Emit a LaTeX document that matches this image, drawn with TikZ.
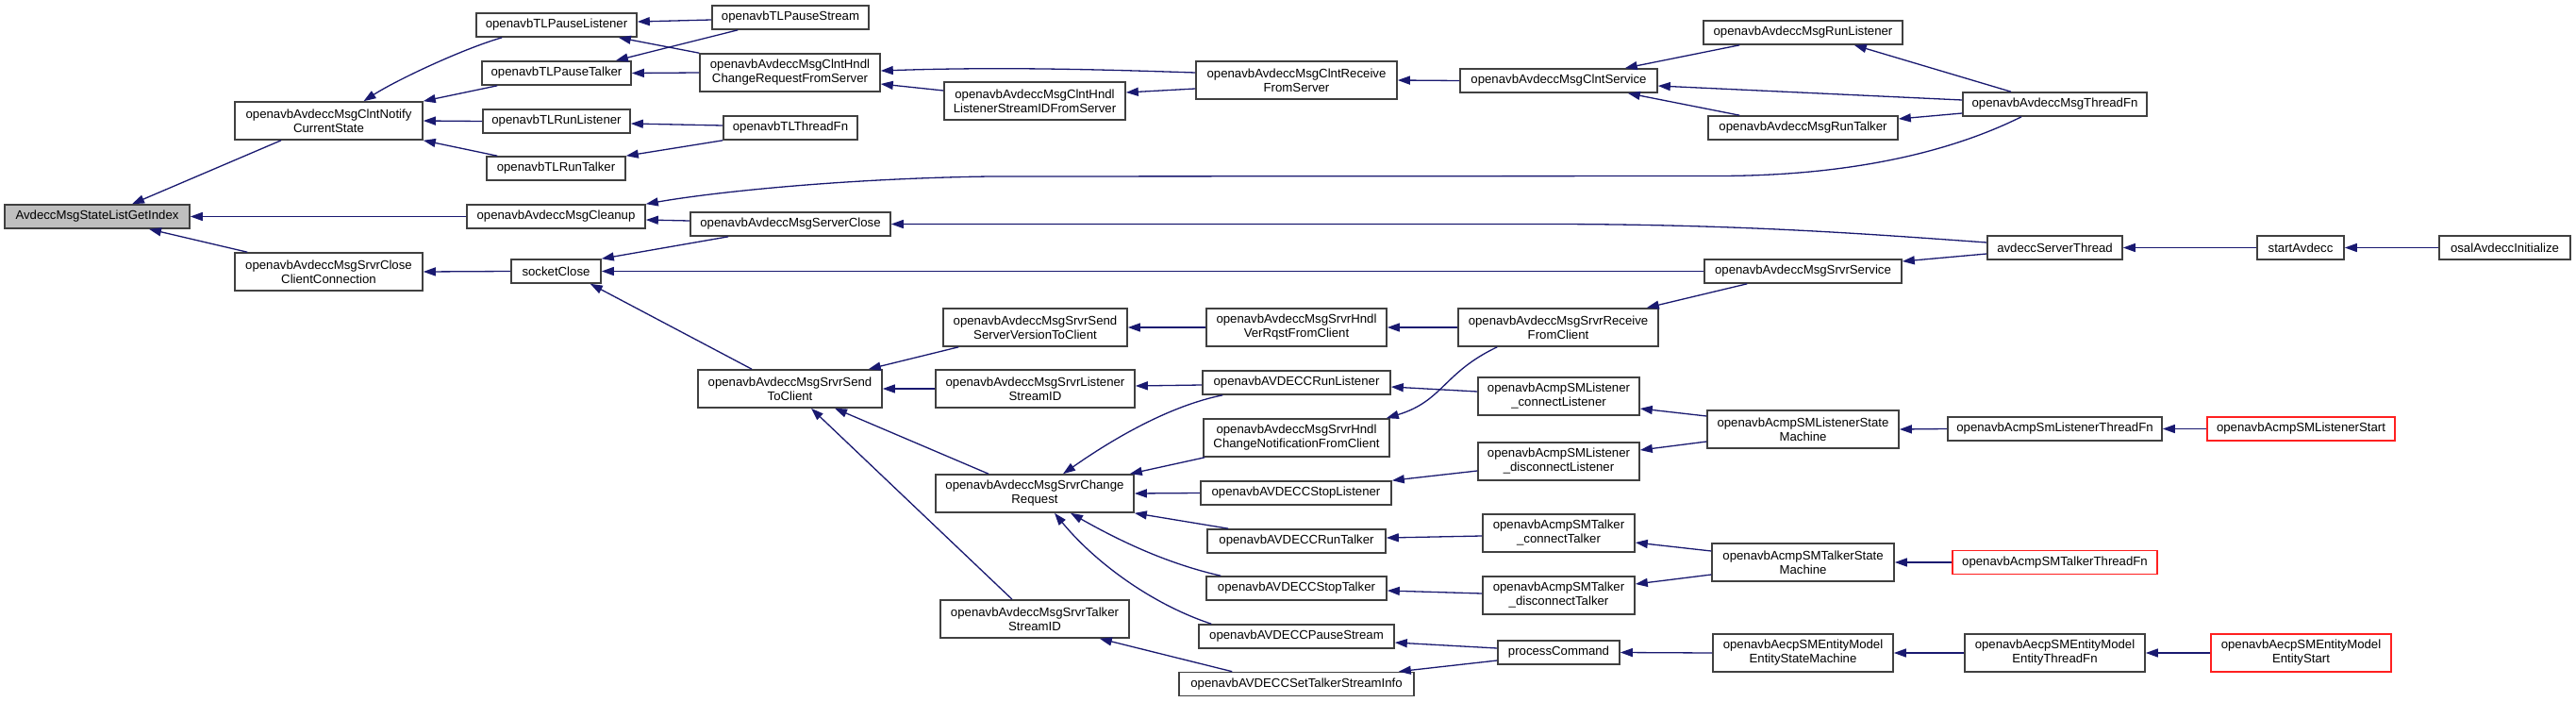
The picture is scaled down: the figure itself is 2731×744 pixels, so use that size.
\documentclass[tikz,border=0pt]{standalone}
\usepackage{fontspec}
\setmainfont{Liberation Sans}
\usetikzlibrary{arrows.meta}
\definecolor{edgeblue}{HTML}{191970}
\definecolor{boxline}{HTML}{404040}
\definecolor{rootfill}{HTML}{BFBFBF}
\definecolor{trunc}{HTML}{FF2020}
\begin{document}
\begin{tikzpicture}[x=1pt,y=-1pt,
  box/.style={draw=boxline, line width=1.6pt, fill=white, inner sep=0pt, align=center,
    font=\fontsize{13.2}{15}\selectfont},
  boxa/.style={box, minimum height=25pt},
  boxb/.style={box, minimum height=40pt},
  redbox/.style={draw=trunc},
  edge/.style={draw=edgeblue, line width=1.3pt, -{Triangle[length=13pt,width=9pt]}}]
\useasboundingbox[fill=white] (0,0) rectangle (2731,744);
% column 0
\node[boxa, fill=rootfill, minimum width=196pt] (root) at (103,229.5) {AvdeccMsgStateListGetIndex};
% column 1
\node[boxb, minimum width=199pt] (notify) at (348.5,128) {openavbAvdeccMsgClntNotify\\CurrentState};
\node[boxb, minimum width=199pt] (closeconn) at (348.5,288) {openavbAvdeccMsgSrvrClose\\ClientConnection};
% column 2
\node[boxa, minimum width=170pt] (tlpl) at (590,26.5) {openavbTLPauseListener};
\node[boxa, minimum width=158pt] (tlpt) at (590,77.5) {openavbTLPauseTalker};
\node[boxa, minimum width=156pt] (tlrl) at (590,128.5) {openavbTLRunListener};
\node[boxa, minimum width=147pt] (tlrt) at (589.5,178.5) {openavbTLRunTalker};
\node[boxa, minimum width=189pt] (cleanup) at (589.5,229.5) {openavbAvdeccMsgCleanup};
\node[boxa, minimum width=95pt] (sockclose) at (589.5,287.5) {socketClose};
% column 3
\node[boxa, minimum width=166pt] (tlps) at (838,18.5) {openavbTLPauseStream};
\node[boxb, minimum width=191pt] (chgreqsrv) at (837.5,77) {openavbAvdeccMsgClntHndl\\ChangeRequestFromServer};
\node[boxa, minimum width=142pt] (tlthread) at (838,135.5) {openavbTLThreadFn};
\node[boxa, minimum width=212pt] (serverclose) at (838,237.5) {openavbAvdeccMsgServerClose};
\node[boxb, minimum width=195pt] (sendtoclient) at (837.5,412) {openavbAvdeccMsgSrvrSend\\ToClient};
% column 4
\node[boxb, minimum width=192pt] (lsidsrv) at (1097,107) {openavbAvdeccMsgClntHndl\\ListenerStreamIDFromServer};
\node[boxb, minimum width=195pt] (sendver) at (1097.5,347) {openavbAvdeccMsgSrvrSend\\ServerVersionToClient};
\node[boxb, minimum width=211pt] (srvlsid) at (1097.5,412) {openavbAvdeccMsgSrvrListener\\StreamID};
\node[boxb, minimum width=210pt] (chgreq) at (1097,523) {openavbAvdeccMsgSrvrChange\\Request};
\node[boxb, minimum width=200pt] (srvtsid) at (1097,656) {openavbAvdeccMsgSrvrTalker\\StreamID};
% column 5
\node[boxb, minimum width=213pt] (clntrecv) at (1374.5,85) {openavbAvdeccMsgClntReceive\\FromServer};
\node[boxb, minimum width=191pt] (verrqst) at (1374.5,347) {openavbAvdeccMsgSrvrHndl\\VerRqstFromClient};
\node[boxa, minimum width=199pt] (runlis) at (1374.5,405.5) {openavbAVDECCRunListener};
\node[boxb, minimum width=197pt] (chgnotif) at (1374.5,464) {openavbAvdeccMsgSrvrHndl\\ChangeNotificationFromClient};
\node[boxa, minimum width=202pt] (stoplis) at (1374,522.5) {openavbAVDECCStopListener};
\node[boxa, minimum width=189pt] (runtalk) at (1374.5,573.5) {openavbAVDECCRunTalker};
\node[boxa, minimum width=191pt] (stoptalk) at (1374.5,623.5) {openavbAVDECCStopTalker};
\node[boxa, minimum width=207pt] (pausestr) at (1374.5,674.5) {openavbAVDECCPauseStream};
\node[boxa, minimum width=249pt] (settalk) at (1374.5,725) {openavbAVDECCSetTalkerStreamInfo};
% column 6
\node[boxa, minimum width=209pt] (clntsvc) at (1652.5,85.5) {openavbAvdeccMsgClntService};
\node[boxb, minimum width=212pt] (srvrecv) at (1652,347) {openavbAvdeccMsgSrvrReceive\\FromClient};
\node[boxb, minimum width=171pt] (connlis) at (1652.5,420) {openavbAcmpSMListener\\\_connectListener};
\node[boxb, minimum width=171pt] (disclis) at (1652.5,489) {openavbAcmpSMListener\\\_disconnectListener};
\node[boxb, minimum width=161pt] (conntalk) at (1652.5,565) {openavbAcmpSMTalker\\\_connectTalker};
\node[boxb, minimum width=161pt] (disctalk) at (1652.5,631) {openavbAcmpSMTalker\\\_disconnectTalker};
\node[boxa, minimum width=129pt] (proccmd) at (1652.5,691.5) {processCommand};
% column 7
\node[boxa, minimum width=211pt] (msgrunlis) at (1911.5,34.5) {openavbAvdeccMsgRunListener};
\node[boxa, minimum width=201pt] (msgruntalk) at (1911.5,135.5) {openavbAvdeccMsgRunTalker};
\node[boxa, minimum width=209pt] (srvsvc) at (1911.5,287.5) {openavbAvdeccMsgSrvrService};
\node[boxb, minimum width=203pt] (lissm) at (1911.5,455) {openavbAcmpSMListenerState\\Machine};
\node[boxb, minimum width=193pt] (talksm) at (1911.5,596) {openavbAcmpSMTalkerState\\Machine};
\node[boxb, minimum width=191pt] (entsm) at (1911.5,692) {openavbAecpSMEntityModel\\EntityStateMachine};
% column 8
\node[boxa, minimum width=195pt] (msgthread) at (2178.5,110.5) {openavbAvdeccMsgThreadFn};
\node[boxa, minimum width=143pt] (srvthread) at (2178.5,262.5) {avdeccServerThread};
\node[boxa, minimum width=227pt] (listhread) at (2178.5,454.5) {openavbAcmpSmListenerThreadFn};
\node[boxa, redbox, minimum width=217pt] (talkthread) at (2178.5,596) {openavbAcmpSMTalkerThreadFn};
\node[boxb, minimum width=191pt] (entthread) at (2178.5,692) {openavbAecpSMEntityModel\\EntityThreadFn};
% column 9
\node[boxa, minimum width=92pt] (startav) at (2439,262.5) {startAvdecc};
\node[boxa, redbox, minimum width=199pt] (lisstart) at (2439.5,454.5) {openavbAcmpSMListenerStart};
\node[boxb, redbox, minimum width=191pt] (entstart) at (2439.5,692) {openavbAecpSMEntityModel\\EntityStart};
% column 10
\node[boxa, minimum width=139pt] (osal) at (2655.5,262.5) {osalAvdeccInitialize};

% edges (caller -> callee)
\draw[edge] ([xshift=-50.5pt]notify.south) -- ([xshift=37pt]root.north);
\draw[edge] (cleanup.west) -- (root.east);
\draw[edge] ([xshift=14pt]closeconn.north west) -- ([xshift=55pt]root.south);
\draw[edge] ([xshift=28pt]tlpl.south west) .. controls (490,52) and (420,85) .. ([xshift=37pt]notify.north);
\draw[edge] ([xshift=17pt]tlpt.south west) -- (notify.north east);
\draw[edge] (tlrl.west) -- (notify.east);
\draw[edge] ([xshift=12pt]tlrt.north west) -- (notify.south east);
\draw[edge] ([yshift=-2.5pt]tlps.west) -- ([yshift=3.5pt]tlpl.east);
\draw[edge] ([xshift=28pt]tlps.south west) -- ([xshift=-17pt]tlpt.north east);
\draw[edge] (chgreqsrv.north west) -- ([xshift=-20pt]tlpl.south east);
\draw[edge] (chgreqsrv.west) -- (tlpt.east);
\draw[edge] ([yshift=2.5pt]tlthread.west) -- ([yshift=-2.5pt]tlrl.east);
\draw[edge] (tlthread.south west) -- (tlrt.north east);
\draw[edge] ([xshift=-35.5pt]msgthread.south) .. controls (2060,165) and (1950,186.5) .. (1820,186.5) -- (1050,187) .. controls (900,189) and (760,203) .. (cleanup.north east);
\draw[edge] ([yshift=3.5pt]serverclose.west) -- ([yshift=-3.5pt]cleanup.east);
\draw[edge] ([xshift=41pt]serverclose.south west) -- (sockclose.north east);
\draw[edge] (sockclose.west) -- (closeconn.east);
\draw[edge] (srvsvc.west) -- (sockclose.east);
\draw[edge] ([xshift=-40.5pt]sendtoclient.north) -- ([xshift=-12pt]sockclose.south east);
\draw[edge] ([yshift=5.5pt]srvthread.west) .. controls (1980,248) and (1850,238) .. (1650,237.5) -- (serverclose.east);
\draw[edge] ([yshift=8pt]clntrecv.west) .. controls (1150,73) and (1050,71) .. ([yshift=2pt]chgreqsrv.east);
\draw[edge] ([yshift=-9pt]clntrecv.west) -- ([yshift=9pt]lsidsrv.east);
\draw[edge] ([yshift=11pt]lsidsrv.west) -- ([yshift=-12pt]chgreqsrv.east);
\draw[edge] (clntsvc.west) -- (clntrecv.east);
\draw[edge] ([xshift=39pt]msgrunlis.south west) -- ([xshift=-35pt]clntsvc.north east);
\draw[edge] ([yshift=4.5pt]msgthread.west) -- ([yshift=-5.5pt]clntsvc.east);
\draw[edge] ([xshift=34pt]msgruntalk.north west) -- ([xshift=-32pt]clntsvc.south east);
\draw[edge] ([xshift=-46.5pt]msgthread.north) -- ([xshift=-52pt]msgrunlis.south east);
\draw[edge] ([yshift=-9.5pt]msgthread.west) -- ([yshift=9.5pt]msgruntalk.east);
\draw[edge] ([yshift=-6.5pt]srvthread.west) -- ([yshift=10.5pt]srvsvc.east);
\draw[edge] (startav.west) -- (srvthread.east);
\draw[edge] (osal.west) -- (startav.east);
\draw[edge] ([xshift=17pt]sendver.south west) -- ([xshift=-15pt]sendtoclient.north east);
\draw[edge] (srvlsid.west) -- (sendtoclient.east);
\draw[edge] ([xshift=-49pt]chgreq.north) -- ([xshift=47.5pt]sendtoclient.south);
\draw[edge] ([xshift=-24pt]srvtsid.north) -- ([xshift=22.5pt]sendtoclient.south);
\draw[edge] (verrqst.west) -- (sendver.east);
\draw[edge] (srvrecv.west) -- (verrqst.east);
\draw[edge] ([xshift=46pt]srvsvc.south west) -- ([xshift=-13pt]srvrecv.north east);
\draw[edge] ([yshift=-2.5pt]runlis.west) -- ([yshift=3pt]srvlsid.east);
\draw[edge] ([xshift=22pt]runlis.south west) .. controls (1240,430) and (1180,465) .. ([xshift=30pt]chgreq.north);
\draw[edge] ([xshift=2pt]chgnotif.south west) -- ([xshift=-5pt]chgreq.north east);
\draw[edge] (stoplis.west) -- (chgreq.east);
\draw[edge] ([xshift=23pt]runtalk.north west) -- (chgreq.south east);
\draw[edge] ([xshift=16pt]stoptalk.north west) .. controls (1240,598) and (1190,575) .. ([xshift=38pt]chgreq.south);
\draw[edge] ([xshift=14pt]pausestr.north west) .. controls (1220,640) and (1160,595) .. ([xshift=21pt]chgreq.south);
\draw[edge] ([xshift=57pt]settalk.north west) -- ([xshift=-32pt]srvtsid.south east);
\draw[edge] ([xshift=42pt]srvrecv.south west) .. controls (1530,395) and (1530,425) .. ([xshift=-4pt]chgnotif.north east);
\draw[edge] ([yshift=5pt]connlis.west) -- ([yshift=-4.5pt]runlis.east);
\draw[edge] ([yshift=-10pt]disclis.west) -- (stoplis.north east);
\draw[edge] ([yshift=-3pt]conntalk.west) -- ([yshift=3.5pt]runtalk.east);
\draw[edge] ([yshift=2pt]disctalk.west) -- ([yshift=-2.5pt]stoptalk.east);
\draw[edge] ([yshift=4.5pt]proccmd.west) -- ([yshift=-6.5pt]pausestr.east);
\draw[edge] ([yshift=-8.5pt]proccmd.west) -- ([xshift=-17pt]settalk.north east);
\draw[edge] ([yshift=14pt]lissm.west) -- ([yshift=-13pt]connlis.east);
\draw[edge] ([yshift=-13pt]lissm.west) -- ([yshift=12pt]disclis.east);
\draw[edge] ([yshift=12pt]talksm.west) -- ([yshift=-10pt]conntalk.east);
\draw[edge] ([yshift=-13pt]talksm.west) -- ([yshift=12pt]disctalk.east);
\draw[edge] (entsm.west) -- (proccmd.east);
\draw[edge] (listhread.west) -- (lissm.east);
\draw[edge] (lisstart.west) -- (listhread.east);
\draw[edge] (talkthread.west) -- (talksm.east);
\draw[edge] (entthread.west) -- (entsm.east);
\draw[edge] (entstart.west) -- (entthread.east);
\end{tikzpicture}
\end{document}
